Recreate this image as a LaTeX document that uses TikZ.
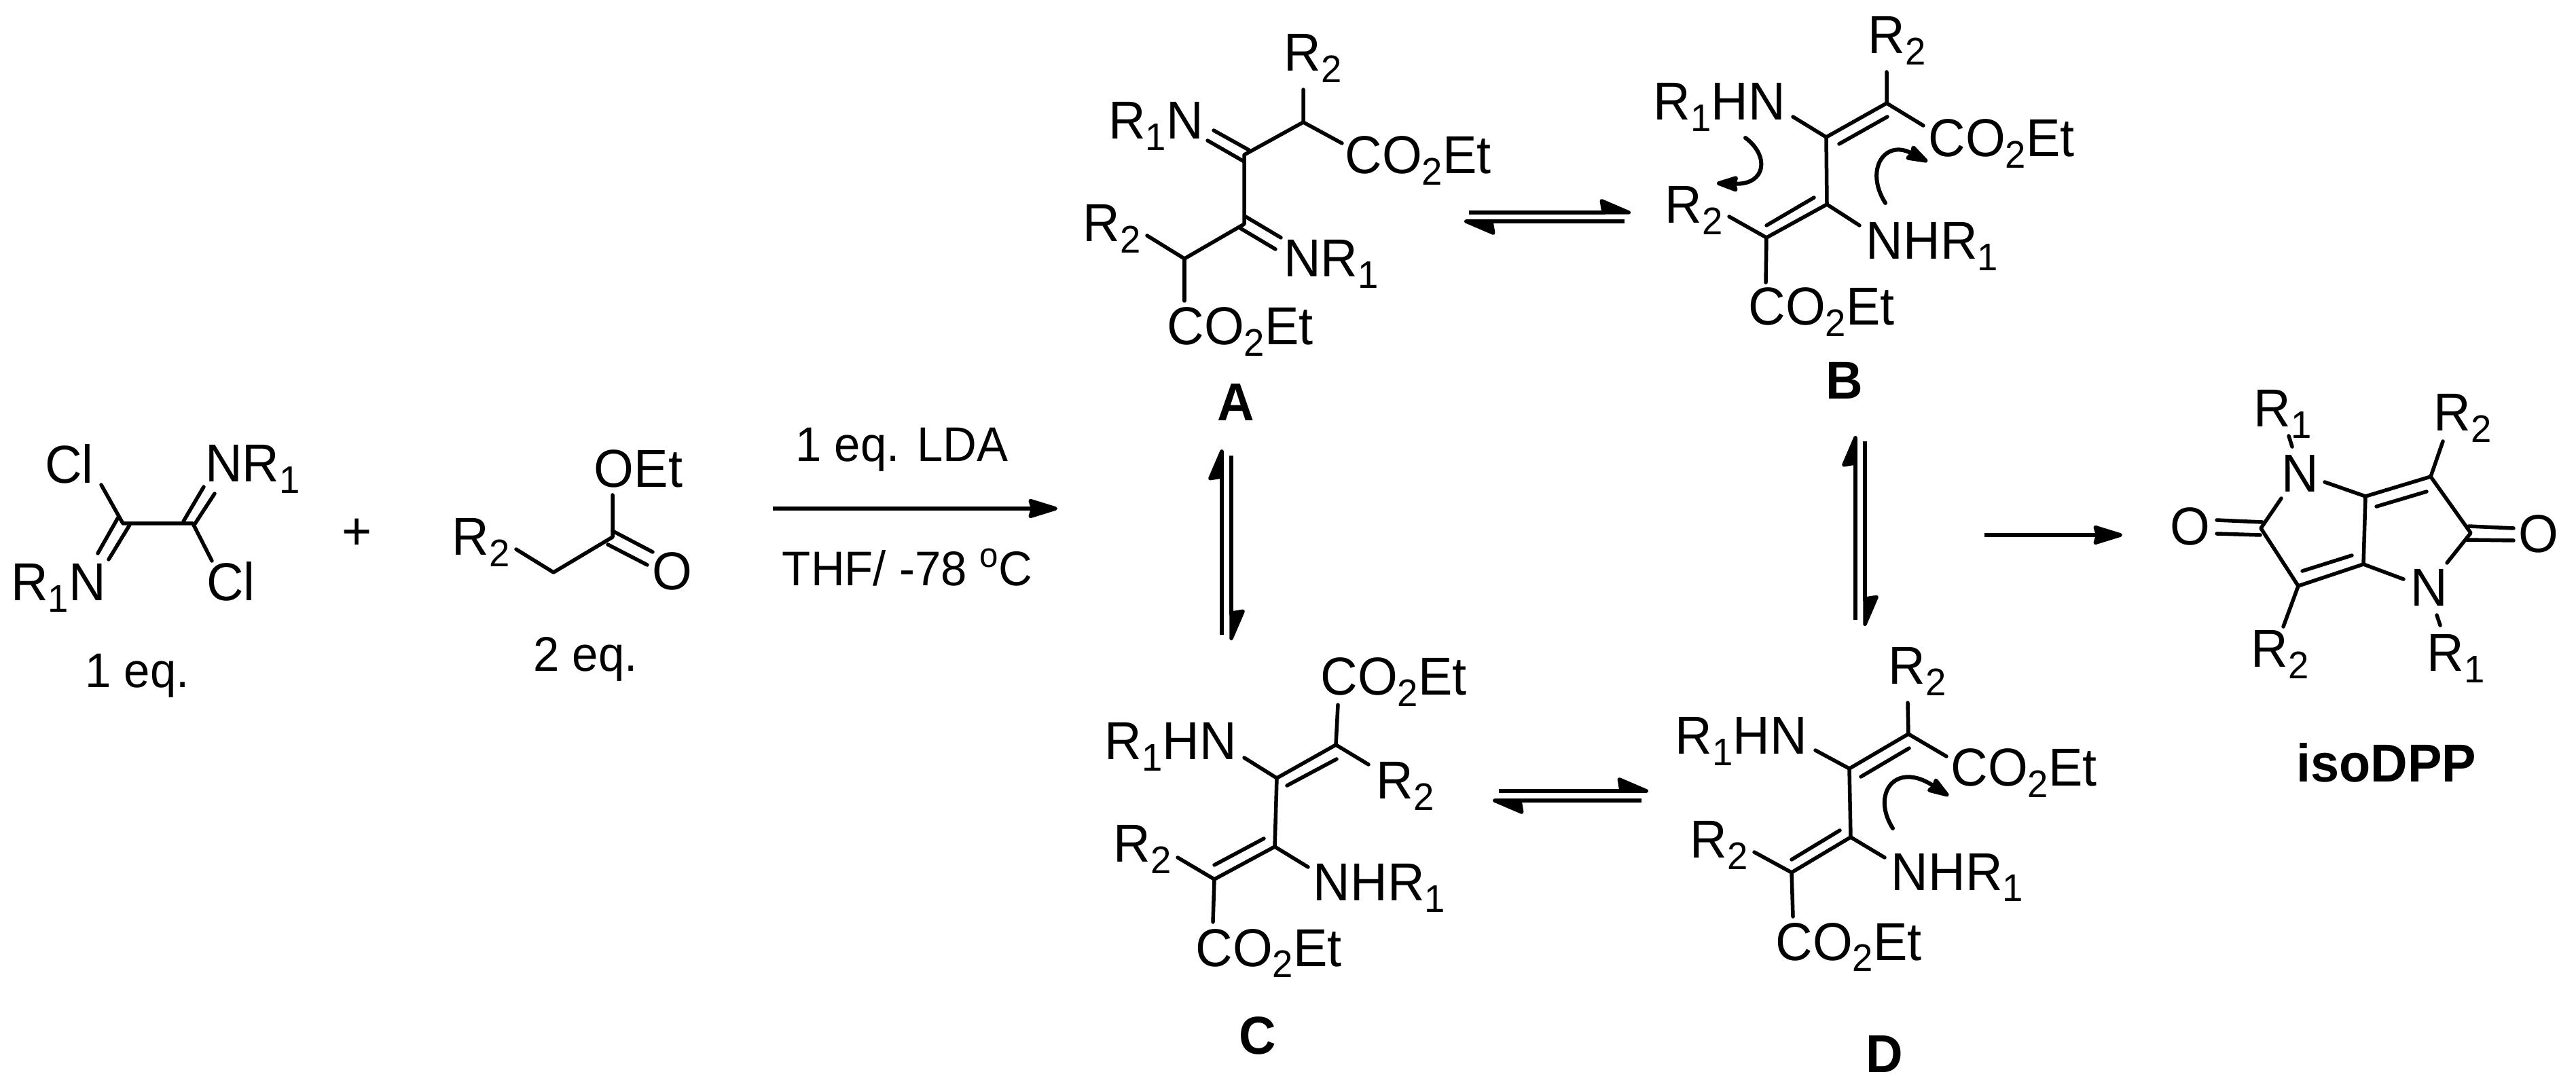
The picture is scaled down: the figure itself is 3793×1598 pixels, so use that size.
\documentclass[tikz,border=0pt]{standalone}
\usepackage{fontspec}
\setmainfont{Liberation Sans}
\usetikzlibrary{arrows.meta}

\newcommand{\sbx}[1]{\raisebox{-4.6pt}{\fontsize{15.5pt}{15.5pt}\selectfont #1}}
\newcommand{\COEt}{CO\sbx{2}Et}

\tikzset{
  lab/.style={inner sep=0pt, anchor=base, yscale=1.04, transform shape, font=\fontsize{21.5pt}{24pt}\selectfont},
  cond/.style={inner sep=0pt, anchor=base, yscale=1.04, transform shape, font=\fontsize{19.6pt}{22pt}\selectfont},
  tag/.style={inner sep=0pt, anchor=base, yscale=1.04, transform shape, font=\fontsize{21.5pt}{24pt}\selectfont\bfseries},
  bond/.style={line width=0.055cm, line cap=round, line join=round},
  rxn/.style={line width=0.055cm, -{Stealth[length=0.5cm, width=0.3cm, inset=0.04cm, round]}},
  eqm/.style={line width=0.055cm, -{Stealth[harpoon, length=0.5cm, width=0.42cm, inset=0.03cm, round]}},
  push/.style={line width=0.06cm, line cap=round, -{Stealth[length=0.38cm, width=0.25cm, inset=0.03cm, round]}}
}

\begin{document}
\begin{tikzpicture}[x=0.01cm, y=-0.01cm]
    \useasboundingbox (0,0) rectangle (3793,1598);

    % Starting materials
    \node [lab] (sCla) at (102,712) {Cl};
    \node [lab] (sNa) at (372,710) {NR\sbx{1}};
    \node [lab] (sNb) at (86,885) {R\sbx{1}N};
    \node [lab] (sClb) at (340,885) {Cl};
    \node [cond] (sEqa) at (202,1013) {1 eq.};
    \node [lab] (plus) at (526,810) {+};
    \node [lab] (eR) at (708,818) {R\sbx{2}};
    \node [lab] (eOEt) at (940,718) {OEt};
    \node [lab] (eO) at (990,869) {O};
    \node [cond] (eEq) at (862,989) {2 eq.};

    \coordinate (s1) at (181,771); \coordinate (s2) at (284,771);
    \coordinate (s3) at (149,714); \coordinate (s4) at (312,826);
    \coordinate (s5) at (270,768); \coordinate (s6) at (300,717);
    \coordinate (s7) at (286,773); \coordinate (s8) at (316,727);
    \coordinate (s9) at (174,762); \coordinate (s10) at (144,815);
    \coordinate (s11) at (191,773); \coordinate (s12) at (160,824);
    \draw [bond] (s3) -- (s1) -- (s2) -- (s4);
    \draw [bond] (s5) -- (s6);
    \draw [bond] (s7) -- (s8);
    \draw [bond] (s9) -- (s10);
    \draw [bond] (s11) -- (s12);

    \coordinate (e1) at (760,809); \coordinate (e2) at (815,843);
    \coordinate (e3) at (902,791); \coordinate (e4) at (902,729);
    \coordinate (e5) at (902,782); \coordinate (e6) at (961,813);
    \coordinate (e7) at (895,802); \coordinate (e8) at (953,832);
    \draw [bond] (e1) -- (e2) -- (e3) -- (e4);
    \draw [bond] (e5) -- (e6);
    \draw [bond] (e7) -- (e8);

    % Reaction arrow and conditions
    \node [cond] (lda) at (1328,680) {1 eq. LDA};
    \node [cond] (thf) at (1336,863) {THF/ -78 \raisebox{7.4pt}{\fontsize{14pt}{14pt}\selectfont o}C};
    \coordinate (rxnA) at (1138,749); \coordinate (rxnB) at (1557,749);
    \draw [rxn] (rxnA) -- (rxnB);

    % Compound A
    \node [lab] (aRa) at (1933,105) {R\sbx{2}};
    \node [lab] (aNa) at (1702,205) {R\sbx{1}N};
    \node [lab] (aCOa) at (2088,256) {\COEt};
    \node [lab] (aRb) at (1637,356) {R\sbx{2}};
    \node [lab] (aNb) at (1960,408) {NR\sbx{1}};
    \node [lab] (aCOb) at (1826,508) {\COEt};
    \node [tag] (tagA) at (1820,620) {A};

    \coordinate (a1) at (1919,132); \coordinate (a2) at (1919,180);
    \coordinate (a3) at (1976,211); \coordinate (a4) at (1832,228);
    \coordinate (a5) at (1832,330); \coordinate (a6) at (1744,381);
    \coordinate (a7) at (1689,347); \coordinate (a8) at (1744,443);
    \coordinate (a9) at (1787,192); \coordinate (a10) at (1839,221);
    \coordinate (a11) at (1778,207); \coordinate (a12) at (1832,238);
    \coordinate (a13) at (1834,319); \coordinate (a14) at (1886,350);
    \coordinate (a15) at (1826,336); \coordinate (a16) at (1878,367);
    \draw [bond] (a1) -- (a2) -- (a3);
    \draw [bond] (a2) -- (a4) -- (a5) -- (a6) -- (a7);
    \draw [bond] (a6) -- (a8);
    \draw [bond] (a9) -- (a10);
    \draw [bond] (a11) -- (a12);
    \draw [bond] (a13) -- (a14);
    \draw [bond] (a15) -- (a16);

    % Compound B
    \node [lab] (bRa) at (2793,79) {R\sbx{2}};
    \node [lab] (bNa) at (2532,177) {R\sbx{1}HN};
    \node [lab] (bCOa) at (2947,231) {\COEt};
    \node [lab] (bRb) at (2494,329) {R\sbx{2}};
    \node [lab] (bNb) at (2845,382) {NHR\sbx{1}};
    \node [lab] (bCOb) at (2682,479) {\COEt};
    \node [tag] (tagB) at (2716,588) {B};

    \coordinate (b1) at (2778,106); \coordinate (b2) at (2778,152);
    \coordinate (b3) at (2832,185); \coordinate (b4) at (2689,202);
    \coordinate (b5) at (2708,212); \coordinate (b6) at (2779,172);
    \coordinate (b7) at (2640,172); \coordinate (b8) at (2690,301);
    \coordinate (b9) at (2601,350); \coordinate (b10) at (2601,332);
    \coordinate (b11) at (2671,291); \coordinate (b12) at (2738,332);
    \coordinate (b13) at (2546,319); \coordinate (b14) at (2600,416);
    \draw [bond] (b1) -- (b2) -- (b3);
    \draw [bond] (b2) -- (b4) -- (b8) -- (b9) -- (b13);
    \draw [bond] (b7) -- (b4);
    \draw [bond] (b8) -- (b12);
    \draw [bond] (b9) -- (b14);
    \draw [bond] (b5) -- (b6);
    \draw [bond] (b10) -- (b11);

    % Electron pushing in B
    \coordinate (bPa) at (2570,203); \coordinate (bPb) at (2528,270);
    \coordinate (bPc) at (2776,299); \coordinate (bPd) at (2838,238);
    \draw [push] (bPa) .. controls (2606,230) and (2600,272) .. (bPb);
    \draw [push] (bPc) .. controls (2745,250) and (2775,205) .. (bPd);

    % Compound C
    \node [lab] (cCOa) at (2052,1024) {\COEt};
    \node [lab] (cNa) at (1724,1119) {R\sbx{1}HN};
    \node [lab] (cRa) at (2069,1177) {R\sbx{2}};
    \node [lab] (cRb) at (1682,1270) {R\sbx{2}};
    \node [lab] (cNb) at (2031,1327) {NHR\sbx{1}};
    \node [lab] (cCOb) at (1868,1423) {\COEt};
    \node [tag] (tagC) at (1852,1552) {C};

    \coordinate (c1) at (1970,1038); \coordinate (c2) at (1967,1097);
    \coordinate (c3) at (2015,1126); \coordinate (c4) at (1880,1146);
    \coordinate (c5) at (1895,1157); \coordinate (c6) at (1968,1118);
    \coordinate (c7) at (1832,1116); \coordinate (c8) at (1877,1247);
    \coordinate (c9) at (1788,1295); \coordinate (c10) at (1788,1274);
    \coordinate (c11) at (1861,1235); \coordinate (c12) at (1926,1277);
    \coordinate (c13) at (1734,1263); \coordinate (c14) at (1786,1358);
    \draw [bond] (c1) -- (c2) -- (c3);
    \draw [bond] (c2) -- (c4) -- (c8) -- (c9) -- (c13);
    \draw [bond] (c7) -- (c4);
    \draw [bond] (c8) -- (c12);
    \draw [bond] (c9) -- (c14);
    \draw [bond] (c5) -- (c6);
    \draw [bond] (c10) -- (c11);

    % Compound D
    \node [lab] (dRa) at (2823,1008) {R\sbx{2}};
    \node [lab] (dNa) at (2564,1111) {R\sbx{1}HN};
    \node [lab] (dCOa) at (2980,1158) {\COEt};
    \node [lab] (dRb) at (2531,1264) {R\sbx{2}};
    \node [lab] (dNb) at (2882,1311) {NHR\sbx{1}};
    \node [lab] (dCOb) at (2722,1414) {\COEt};
    \node [tag] (tagD) at (2775,1579) {D};

    \coordinate (d1) at (2809,1035); \coordinate (d2) at (2810,1081);
    \coordinate (d3) at (2866,1114); \coordinate (d4) at (2723,1132);
    \coordinate (d5) at (2740,1144); \coordinate (d6) at (2811,1102);
    \coordinate (d7) at (2673,1105); \coordinate (d8) at (2725,1233);
    \coordinate (d9) at (2638,1285); \coordinate (d10) at (2638,1266);
    \coordinate (d11) at (2709,1223); \coordinate (d12) at (2775,1263);
    \coordinate (d13) at (2583,1255); \coordinate (d14) at (2640,1350);
    \draw [bond] (d1) -- (d2) -- (d3);
    \draw [bond] (d2) -- (d4) -- (d8) -- (d9) -- (d13);
    \draw [bond] (d7) -- (d4);
    \draw [bond] (d8) -- (d12);
    \draw [bond] (d9) -- (d14);
    \draw [bond] (d5) -- (d6);
    \draw [bond] (d10) -- (d11);

    % Electron pushing in D
    \coordinate (dPa) at (2787,1220); \coordinate (dPb) at (2869,1172);
    \draw [push] (dPa) .. controls (2755,1170) and (2790,1120) .. (dPb);

    % Equilibrium arrows
    \coordinate (abA) at (2163,313); \coordinate (abB) at (2401,313);
    \coordinate (abC) at (2392,326); \coordinate (abD) at (2156,326);
    \draw [eqm] (abA) -- (abB);
    \draw [eqm] (abC) -- (abD);

    \coordinate (cdA) at (2207,1165); \coordinate (cdB) at (2427,1165);
    \coordinate (cdC) at (2417,1179); \coordinate (cdD) at (2198,1179);
    \draw [eqm] (cdA) -- (cdB);
    \draw [eqm] (cdC) -- (cdD);

    \coordinate (acA) at (1799,935); \coordinate (acB) at (1799,662);
    \coordinate (acC) at (1813,671); \coordinate (acD) at (1813,943);
    \draw [eqm] (acA) -- (acB);
    \draw [eqm] (acC) -- (acD);

    \coordinate (bdA) at (2732,913); \coordinate (bdB) at (2732,642);
    \coordinate (bdC) at (2746,650); \coordinate (bdD) at (2746,922);
    \draw [eqm] (bdA) -- (bdB);
    \draw [eqm] (bdC) -- (bdD);

    % Last step to isoDPP
    \coordinate (lastA) at (2922,788); \coordinate (lastB) at (3125,788);
    \draw [rxn] (lastA) -- (lastB);

    \node [lab] (iOa) at (3225,803) {O};
    \node [lab] (iNa) at (3387,725) {N};
    \node [lab] (iOb) at (3738,814) {O};
    \node [lab] (iNb) at (3577,893) {N};
    \node [lab] (iRa) at (3361,629) {R\sbx{1}};
    \node [lab] (iRb) at (3626,635) {R\sbx{2}};
    \node [lab] (iRc) at (3357,983) {R\sbx{2}};
    \node [lab] (iRd) at (3616,989) {R\sbx{1}};
    \node [tag] (tagIso) at (3514,1152) {isoDPP};

    \coordinate (i1) at (3329,778); \coordinate (i2) at (3359,734);
    \coordinate (i3) at (3423,710); \coordinate (i4) at (3483,731);
    \coordinate (i5) at (3480,831); \coordinate (i6) at (3579,702);
    \coordinate (i7) at (3499,746); \coordinate (i8) at (3573,724);
    \coordinate (i9) at (3638,785); \coordinate (i10) at (3603,829);
    \coordinate (i11) at (3539,853); \coordinate (i12) at (3384,863);
    \coordinate (i13) at (3463,818); \coordinate (i14) at (3390,841);
    \coordinate (i15) at (3362,923); \coordinate (i16) at (3597,650);
    \coordinate (i17) at (3370,642); \coordinate (i18) at (3375,658);
    \coordinate (i19) at (3588,906); \coordinate (i20) at (3593,921);
    \coordinate (i21) at (3264,766); \coordinate (i22) at (3331,769);
    \coordinate (i23) at (3264,786); \coordinate (i24) at (3328,788);
    \coordinate (i25) at (3635,775); \coordinate (i26) at (3701,778);
    \coordinate (i27) at (3632,795); \coordinate (i28) at (3701,796);
    \draw [bond] (i2) -- (i1) -- (i12) -- (i5) -- (i4) -- (i6) -- (i9) -- (i10);
    \draw [bond] (i3) -- (i4);
    \draw [bond] (i5) -- (i11);
    \draw [bond] (i7) -- (i8);
    \draw [bond] (i13) -- (i14);
    \draw [bond] (i12) -- (i15);
    \draw [bond] (i6) -- (i16);
    \draw [bond] (i17) -- (i18);
    \draw [bond] (i19) -- (i20);
    \draw [bond] (i21) -- (i22);
    \draw [bond] (i23) -- (i24);
    \draw [bond] (i25) -- (i26);
    \draw [bond] (i27) -- (i28);

\end{tikzpicture}
\end{document}
